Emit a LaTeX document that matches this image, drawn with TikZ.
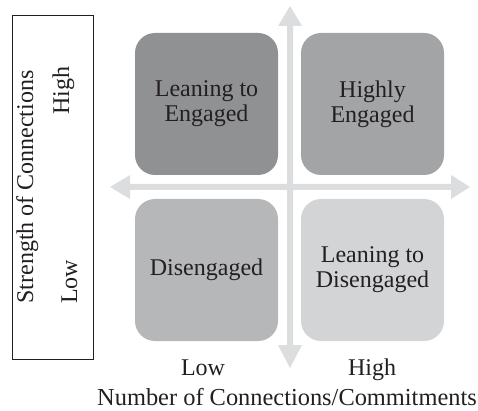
\documentclass[tikz,border=0pt]{standalone}
\usepackage{fontspec}
\setmainfont{Liberation Serif}
\definecolor{qTL}{HTML}{909193}
\definecolor{qTR}{HTML}{A3A4A6}
\definecolor{qBL}{HTML}{B6B7B9}
\definecolor{qBR}{HTML}{D3D4D6}
\definecolor{axisgray}{HTML}{DCDDDF}
\definecolor{ink}{HTML}{231F20}
\begin{document}
\begin{tikzpicture}[x=1pt,y=-1pt,
  quad/.style={rounded corners=20pt,minimum width=143pt,minimum height=142pt,inner sep=0pt,
    align=center,text=ink,font=\fontsize{24}{25}\selectfont},
  lab/.style={text=ink,font=\fontsize{24}{25}\selectfont,inner sep=0pt,anchor=base}]
\useasboundingbox (0,0) rectangle (478,411);
% axes
\fill[axisgray] (287,26) -- (278,26) -- (290,6) -- (302,26) -- (293,26) -- (293,345) -- (302,345) -- (290,368) -- (278,345) -- (287,345) -- cycle;
\fill[axisgray] (130,184) -- (130,175) -- (110,187) -- (130,199) -- (130,190) -- (451,190) -- (451,199) -- (470,187) -- (451,175) -- (451,184) -- cycle;
% quadrants
\node[quad,fill=qTL] (tl) at (206.5,104) {Leaning to\\Engaged};
\node[quad,fill=qTR] (tr) at (372.5,104) {Highly\\Engaged};
\node[quad,fill=qBL] (bl) at (206.5,270) {Disengaged\rule[-0.22em]{0pt}{0pt}};
\node[quad,fill=qBR] (br) at (372.5,270) {Leaning to\\Disengaged};
% side box
\node[draw=ink,line width=0.8pt,minimum width=81pt,minimum height=344pt,inner sep=0pt] (side) at (52.5,187) {};
\node[lab,rotate=90] (strength) at (33,187) {Strength of Connections};
\node[lab,rotate=90] (yhigh) at (69,91) {High};
\node[lab,rotate=90] (ylow) at (77,282) {Low};
% x labels
\node[lab] (xlow) at (203,375) {Low};
\node[lab] (xhigh) at (372,375) {High};
\node[lab,font=\fontsize{24.4}{25}\selectfont] (xtitle) at (287,405) {Number of Connections/Commitments};
\end{tikzpicture}
\end{document}
